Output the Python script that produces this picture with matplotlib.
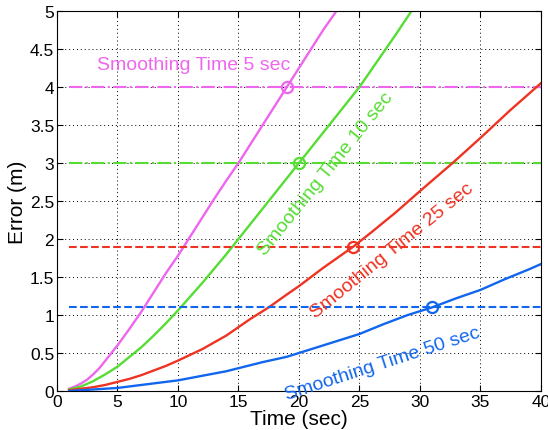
import matplotlib
matplotlib.use("Agg")
import matplotlib.pyplot as plt

plt.rcParams['font.family'] = ['Liberation Sans', 'DejaVu Sans']

# Smoothing time 5 sec
t5 = [1, 1.5, 2, 2.5, 3, 3.5, 4, 4.5, 5, 6, 7, 8, 9, 10, 11, 12, 13, 14, 15, 16, 17, 18, 19, 20, 21, 22, 23.1]
e5 = [0.03, 0.06, 0.1, 0.15, 0.22, 0.3, 0.4, 0.5, 0.6, 0.82, 1.05, 1.3, 1.55, 1.78, 2.03, 2.28, 2.53, 2.77, 3.0, 3.25, 3.5, 3.75, 4.0, 4.25, 4.5, 4.75, 5.0]

# Smoothing time 10 sec
t10 = [1, 2, 3, 4, 5, 6, 7, 8, 9, 10, 11, 12, 13, 14, 15, 16, 17, 18, 19, 20, 21, 22, 23, 24, 25, 26, 27, 28, 29.3]
e10 = [0.02, 0.06, 0.13, 0.22, 0.32, 0.45, 0.58, 0.73, 0.89, 1.06, 1.24, 1.42, 1.61, 1.8, 2.0, 2.2, 2.4, 2.6, 2.8, 3.0, 3.2, 3.4, 3.6, 3.8, 4.0, 4.23, 4.46, 4.69, 5.0]

# Smoothing time 25 sec
t25 = [1, 2, 3, 4, 5, 6, 7, 8, 9, 10, 12, 14, 15, 16, 17.5, 19, 20, 22, 24.5, 26, 27, 28, 30, 32.7, 35, 37.5, 40]
e25 = [0.01, 0.03, 0.05, 0.08, 0.12, 0.16, 0.21, 0.27, 0.33, 0.4, 0.55, 0.73, 0.84, 0.95, 1.1, 1.27, 1.38, 1.62, 1.9, 2.09, 2.22, 2.35, 2.63, 3.0, 3.33, 3.7, 4.05]

# Smoothing time 50 sec
t50 = [1, 3, 5, 7, 9, 10, 12, 14, 15, 17, 19, 20, 22, 24, 25, 27, 29, 31, 33, 35, 37, 39, 40]
e50 = [0.0, 0.02, 0.04, 0.08, 0.12, 0.14, 0.2, 0.26, 0.3, 0.38, 0.45, 0.5, 0.6, 0.7, 0.75, 0.88, 1.0, 1.1, 1.22, 1.33, 1.47, 1.6, 1.67]

# threshold levels and marked points
thresholds = [4.0, 3.0, 1.9, 1.1]
mark_t = [19, 20, 24.5, 31]
labels = ["Smoothing Time 5 sec", "Smoothing Time 10 sec",
          "Smoothing Time 25 sec", "Smoothing Time 50 sec"]

colors = ['#ee66ee', '#55dd33', '#ee3322', '#1166ee']
styles = ['-.', '-.', '--', '--']

fig = plt.figure(figsize=(5.48, 4.31), dpi=100)
ax = fig.add_axes([0.104, 0.0905, 0.883, 0.8815])

curves = [(t5, e5), (t10, e10), (t25, e25), (t50, e50)]
for (t, e), c, ls, lvl, mt in zip(curves, colors, styles, thresholds, mark_t):
    ax.plot(t, e, color=c, lw=1.7)
    ax.plot([1, 40], [lvl, lvl], color=c, ls=ls, lw=1.5)
    ax.plot(mt, lvl, 'o', mfc='none', mec=c, mew=1.6, ms=8)

# curve labels
ax.text(11.3, 4.3, labels[0], color=colors[0], fontsize=14, ha='center', va='center')
ax.text(22.2, 2.87, labels[1], color=colors[1], fontsize=14, ha='center', va='center',
        rotation=51, rotation_mode='anchor')
ax.text(27.7, 1.85, labels[2], color=colors[2], fontsize=14, ha='center', va='center',
        rotation=39, rotation_mode='anchor')
ax.text(26.9, 0.36, labels[3], color=colors[3], fontsize=14, ha='center', va='center',
        rotation=18, rotation_mode='anchor')

ax.set_xlim(0, 40)
ax.set_ylim(0, 5)
ax.set_xticks(range(0, 41, 5))
ax.set_yticks([0, 0.5, 1, 1.5, 2, 2.5, 3, 3.5, 4, 4.5, 5])
ax.set_yticklabels(['0', '0.5', '1', '1.5', '2', '2.5', '3', '3.5', '4', '4.5', '5'])
ax.tick_params(direction='in', top=True, right=True, labelsize=12.5, length=4, pad=2)
ax.grid(True, color='black', ls=(0, (1, 3)), lw=0.7)
ax.set_xlabel("Time (sec)", fontsize=15, labelpad=0)
ax.set_ylabel("Error (m)", fontsize=15, labelpad=2)

fig.savefig("out.png", dpi=100)
